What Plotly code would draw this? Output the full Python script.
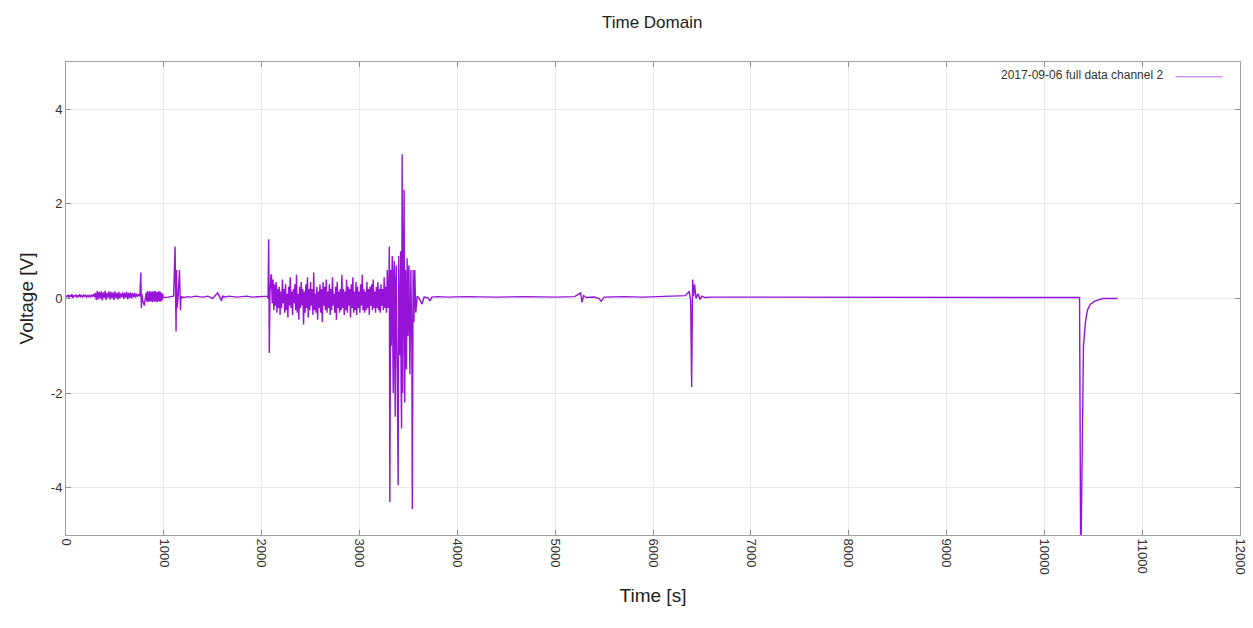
import plotly.graph_objects as go

# --- data, in seconds / volts ---
# quiet start, sampled every 10 s (0..740 s)
start_t = list(range(0, 750, 10))
start_v = [0.06, 0.03, 0.08, 0.02, 0.07, 0.04, 0.09, 0.01, 0.06, 0.05,
           0.08, 0.02, 0.07, 0.03, 0.09, 0.04, 0.06, 0.02, 0.08, 0.05,
           0.07, 0.03, 0.06, 0.04, 0.08, 0.02, 0.07, 0.05, 0.09, 0.03,
           0.12,
           -0.03, 0.16, -0.02, 0.14, 0.00, 0.15, -0.04, 0.13, 0.01, 0.16,
           -0.03, 0.12, 0.02, 0.15, -0.02, 0.14, 0.00, 0.13, -0.03, 0.15,
           0.01, 0.12, -0.02, 0.14, 0.00, 0.11, 0.03, 0.13, -0.01, 0.12,
           0.02, 0.14, -0.02, 0.12, 0.01, 0.13, 0.00, 0.11, 0.03, 0.12,
           0.02, 0.10, 0.04, 0.08]

# small event near 770 s
event1_t = [750, 755, 765, 770, 775, 785, 800, 810]
event1_v = [0.05, 0.05, 0.55, -0.20, 0.10, -0.05, -0.15, 0.00]

# short dense blob 820..994 s, every 6 s
blob_t = list(range(820, 1000, 6))
blob_v = [0.12, -0.06, 0.15, -0.08, 0.14, -0.05, 0.16, -0.07, 0.13, -0.06,
          0.15, -0.08, 0.14, -0.05, 0.16, -0.07, 0.15, -0.06, 0.13, -0.08,
          0.14, -0.05, 0.15, -0.07, 0.14, -0.06, 0.12, -0.04, 0.10, 0.02]

# events near 1120 s / 1165 s, then quiet until 2060 s
mid_t = [1010, 1040, 1070, 1100, 1115, 1125, 1130, 1135, 1145, 1160,
         1170, 1175, 1180, 1190, 1210, 1240, 1280, 1320, 1360, 1400,
         1450, 1500, 1550, 1590, 1600, 1610, 1620, 1630, 1660, 1700,
         1750, 1800, 1850, 1900, 1950, 2000, 2060]
mid_v = [0.02, 0.03, 0.04, 0.05, 1.10, -0.70, 0.60, -0.20, 0.00, 0.60,
         -0.25, 0.05, 0.00, 0.03, 0.02, 0.04, 0.03, 0.05, 0.04, 0.03,
         0.05, 0.00, 0.12, -0.05, 0.06, 0.03, 0.04, 0.03, 0.05, 0.04,
         0.03, 0.04, 0.05, 0.03, 0.04, 0.04, 0.05]

# spike at ~2075 s
event2_t = [2065, 2072, 2078, 2085, 2095]
event2_v = [0.00, 1.25, -1.15, 0.10, 0.50]

# noisy stretch 2100..3292 s, every 8 s
noisy_t = list(range(2100, 3300, 8))
noisy_v = [0.50, -0.10, 0.40, -0.25, 0.30, -0.15, 0.35, -0.30, 0.20, -0.20,
           0.25, -0.35, 0.15, -0.20, 0.40, -0.10, 0.20, -0.30, 0.30, -0.25,
           0.10, -0.40, 0.25, -0.15, 0.45, -0.20, 0.15, -0.35, 0.20, -0.10,
           0.30, -0.25, 0.50, -0.30, 0.10, -0.45, 0.25, -0.20, 0.35, -0.15,
           0.20, -0.55, 0.15, -0.30, 0.30, -0.20, 0.45, -0.40, 0.20, -0.25,
           0.35, -0.15, 0.20, -0.35, 0.55, -0.25, 0.10, -0.30, 0.25, -0.45,
           0.15, -0.20, 0.30, -0.30, 0.20, -0.50, 0.35, -0.15, 0.25, -0.25,
           0.40, -0.30, 0.15, -0.20, 0.30, -0.35, 0.20, -0.25, 0.45, -0.15,
           0.10, -0.30, 0.25, -0.45, 0.35, -0.20, 0.15, -0.30, 0.20, -0.25,
           0.50, -0.20, 0.20, -0.35, 0.15, -0.25, 0.40, -0.30, 0.25, -0.15,
           0.20, -0.40, 0.30, -0.20, 0.45, -0.30, 0.15, -0.25, 0.35, -0.35,
           0.25, -0.20, 0.15, -0.30, 0.30, -0.15, 0.50, -0.25, 0.20, -0.30,
           0.15, -0.25, 0.35, -0.20, 0.20, -0.35, 0.25, -0.15, 0.30, -0.25,
           0.40, -0.20, 0.15, -0.30, 0.25, -0.20, 0.35, -0.25, 0.20, -0.30,
           0.30, -0.15, 0.20, -0.25, 0.45, -0.20, 0.25, -0.30, 0.60, -0.20]

# large burst 3300..3590 s
burst_t = [3300, 3305, 3310, 3318, 3325, 3330, 3335, 3340, 3345, 3350,
           3355, 3360, 3365, 3370, 3375, 3380, 3385, 3395, 3400, 3405,
           3410, 3415, 3420, 3425, 3430, 3436, 3442, 3450, 3456, 3462,
           3470, 3475, 3480, 3487, 3495, 3500, 3505, 3510, 3515, 3525,
           3535, 3540, 3548, 3556, 3565, 3575, 3590]
burst_v = [0.30, 1.10, -4.30, 0.60, -1.00, 0.40, 0.90, -0.80, -2.00, 0.50,
           0.80, -1.20, -2.50, 0.40, 0.70, -0.90, -1.50, -3.95, 0.90, -0.60,
           -1.20, 0.50, 1.00, -1.80, -2.75, 3.05, -2.00, 0.80, 2.30, -2.20,
           0.60, -0.90, -1.50, 0.85, -0.80, 0.40, 0.70, -0.60, -1.60, 0.60,
           -1.00, -4.45, 0.60, -0.50, 0.60, -0.30, 0.05]

# quiet tail with the 6400 s event and the 10370 s drop
late_t = [3610, 3640, 3660, 3700, 3720, 3740, 3800, 3900, 4100, 4400,
          4700, 5000, 5200, 5260, 5275, 5290, 5320, 5400, 5450, 5470,
          5500, 5700, 5900, 6100, 6250, 6330, 6370, 6385, 6395, 6405,
          6415, 6425, 6440, 6460, 6480, 6500, 6530, 6600, 7000, 8000,
          9000, 10000, 10340, 10360, 10372, 10400, 10420, 10440, 10470, 10520,
          10600, 10750]
late_v = [0.00, -0.12, 0.03, 0.02, -0.05, 0.03, 0.04, 0.03, 0.04, 0.03,
          0.04, 0.03, 0.04, 0.12, -0.08, 0.06, 0.02, 0.03, 0.00, -0.06,
          0.03, 0.04, 0.03, 0.04, 0.05, 0.06, 0.15, -0.05, -1.87, 0.40,
          0.05, 0.30, 0.00, 0.10, -0.02, 0.05, 0.02, 0.03, 0.03, 0.03,
          0.03, 0.03, 0.03, 0.02, -5.80, -1.00, -0.50, -0.25, -0.12, -0.05,
          0.00, 0.00]

x_ticks = [0, 1000, 2000, 3000, 4000, 5000, 6000, 7000, 8000, 9000, 10000, 11000, 12000]
x_labels = [str(t) for t in x_ticks]
y_ticks = [-4, -2, 0, 2, 4]
y_labels = [str(t) for t in y_ticks]

series_name = "2017-09-06 full data channel 2"
line_color = "#9614d8"

time = start_t + event1_t + blob_t + mid_t + event2_t + noisy_t + burst_t + late_t
volt = start_v + event1_v + blob_v + mid_v + event2_v + noisy_v + burst_v + late_v
assert len(time) == len(volt)

fig = go.Figure()
fig.add_trace(go.Scatter(x=time, y=volt, mode="lines", name=series_name,
                         line=dict(color=line_color, width=1.4), showlegend=False))

axis_common = dict(showline=True, linecolor="#a0a0a0", linewidth=1, mirror="ticks",
                   ticks="inside", ticklen=5, tickcolor="#909090",
                   showgrid=True, gridcolor="#e8e8e8", gridwidth=1, zeroline=False,
                   automargin=False, tickfont=dict(size=13, color="#333333"))

fig.update_xaxes(range=[0, 12000], tickvals=x_ticks, ticktext=x_labels, tickangle=90,
                 title=dict(text="Time [s]", font=dict(size=19, color="#222222"), standoff=14),
                 **axis_common)
fig.update_yaxes(range=[-5, 5], tickvals=y_ticks, ticktext=y_labels,
                 title=dict(text="Voltage [V]", font=dict(size=19, color="#222222"), standoff=12),
                 **axis_common)

# legend drawn gnuplot-style: text then line sample on the right
fig.add_annotation(x=0.936, y=0.972, xref="paper", yref="paper", xanchor="right", yanchor="middle",
                   text=series_name, showarrow=False, font=dict(size=12, color="#333333"))
fig.add_shape(type="line", xref="paper", yref="paper", x0=0.945, x1=0.985, y0=0.969, y1=0.969,
              line=dict(color="#c89af0", width=1.5))

fig.update_layout(
    title=dict(text="Time Domain", x=0.5205, xanchor="center", y=0.965, yanchor="middle",
               font=dict(size=17, color="#222222")),
    font=dict(family="Liberation Sans, Arial, sans-serif"),
    width=1253, height=628,
    margin=dict(l=66, r=13, t=62, b=93),
    plot_bgcolor="white", paper_bgcolor="white",
)

fig.write_html("out.html", config={"displayModeBar": False},
               post_script="document.body.style.margin='0';")
